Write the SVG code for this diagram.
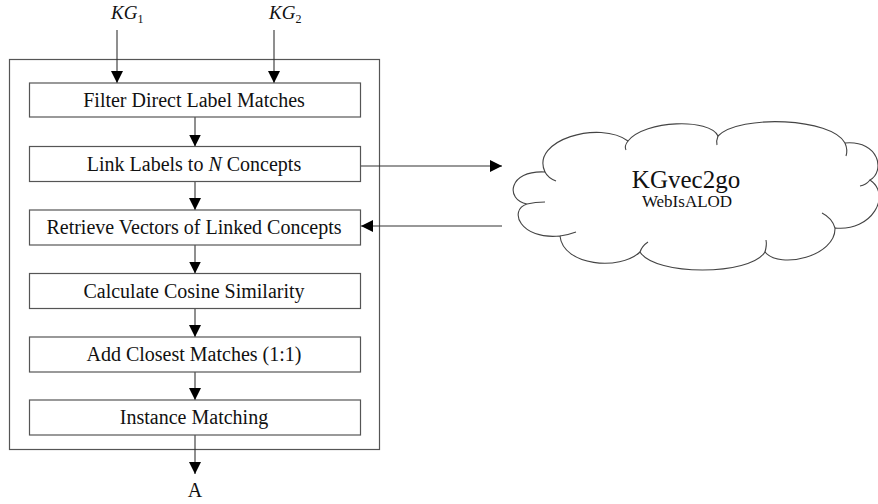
<svg xmlns="http://www.w3.org/2000/svg" width="878" height="504" viewBox="0 0 878 504">
<defs>
<marker id="ah" markerUnits="userSpaceOnUse" markerWidth="12" markerHeight="12" refX="12" refY="6" orient="auto">
<path d="M0,0 L12,6 L0,12 z" fill="#000"/>
</marker>
<style>
.box{fill:#fff;stroke:#555;stroke-width:1.2}
.frame{fill:none;stroke:#555;stroke-width:1.2}
.lbl{font-family:"Liberation Serif","Times New Roman",serif;font-size:20px;fill:#111;text-anchor:middle}
.kg{font-family:"Liberation Serif","Times New Roman",serif;font-size:19px;font-style:italic;fill:#111}
.sub{font-size:12px;font-style:normal}
.con{fill:none;stroke:#333;stroke-width:1.1;marker-end:url(#ah)}
.cloud{fill:#fff;stroke:#444;stroke-width:1.1}
.hint{fill:none;stroke:#444;stroke-width:1.1}
</style>
</defs>
<rect class="frame" x="9.5" y="59.5" width="370" height="390"/>
<g id="inputs">
<text class="kg" x="111" y="19">KG<tspan class="sub" dy="4">1</tspan></text>
<text class="kg" x="269" y="19">KG<tspan class="sub" dy="4">2</tspan></text>
</g>
<g id="connectors">
<path class="con" d="M117,30 V83"/>
<path class="con" d="M274,30 V83"/>
<path class="con" d="M195,117 V146.5"/>
<path class="con" d="M195,181.5 V210"/>
<path class="con" d="M195,245 V273.5"/>
<path class="con" d="M195,308.5 V337"/>
<path class="con" d="M195,372 V400"/>
<path class="con" d="M195,435 V474"/>
<path class="con" d="M361,166 H502"/>
<path class="con" d="M502,226 H361"/>
</g>
<g id="n1"><rect class="box" x="29.5" y="83" width="331" height="34"/><text class="lbl" x="194" y="106.5">Filter Direct Label Matches</text></g>
<g id="n2"><rect class="box" x="29.5" y="146.5" width="331" height="35"/><text class="lbl" x="194" y="170.5">Link Labels to <tspan font-style="italic">N</tspan> Concepts</text></g>
<g id="n3"><rect class="box" x="29.5" y="210" width="331" height="35"/><text class="lbl" x="194" y="234">Retrieve Vectors of Linked Concepts</text></g>
<g id="n4"><rect class="box" x="29.5" y="273.5" width="331" height="35"/><text class="lbl" x="194" y="297.5">Calculate Cosine Similarity</text></g>
<g id="n5"><rect class="box" x="29.5" y="337" width="331" height="35"/><text class="lbl" x="194" y="361">Add Closest Matches (1:1)</text></g>
<g id="n6"><rect class="box" x="29.5" y="400" width="331" height="35"/><text class="lbl" x="194" y="424">Instance Matching</text></g>
<g id="output"><text class="lbl" x="195" y="497">A</text></g>
<g id="cloud">
<path class="cloud" d="M527,204 C505,200 508,170 545,172 C530,140 600,120 628,141 C645,120 710,118 718,136 C740,114 832,118 845,143 C880,140 885,172 870,180 C892,195 872,232 835,228 C836,256 780,270 765,252 C750,276 655,276 640,252 C620,271 563,266 560,236 C520,240 508,210 527,204 Z"/>
<path class="hint" d="M545,172 Q548,178 556,181"/>
<path class="hint" d="M628,141 Q624,146 626,150"/>
<path class="hint" d="M718,136 Q716,141 717,145"/>
<path class="hint" d="M845,143 Q848,150 846,156"/>
<path class="hint" d="M870,180 Q866,185 860,186"/>
<path class="hint" d="M835,228 Q832,218 822,213"/>
<path class="hint" d="M765,252 Q767,245 766,240"/>
<path class="hint" d="M640,252 Q642,246 648,242"/>
<path class="hint" d="M560,236 Q568,235 576,232"/>
<path class="hint" d="M527,204 Q535,202 545,202"/>
<text x="686" y="188" font-family="Liberation Serif,'Times New Roman',serif" font-size="25" fill="#111" text-anchor="middle">KGvec2go</text>
<text x="687" y="207" font-family="Liberation Serif,'Times New Roman',serif" font-size="17" fill="#111" text-anchor="middle">WebIsALOD</text>
</g>
</svg>
